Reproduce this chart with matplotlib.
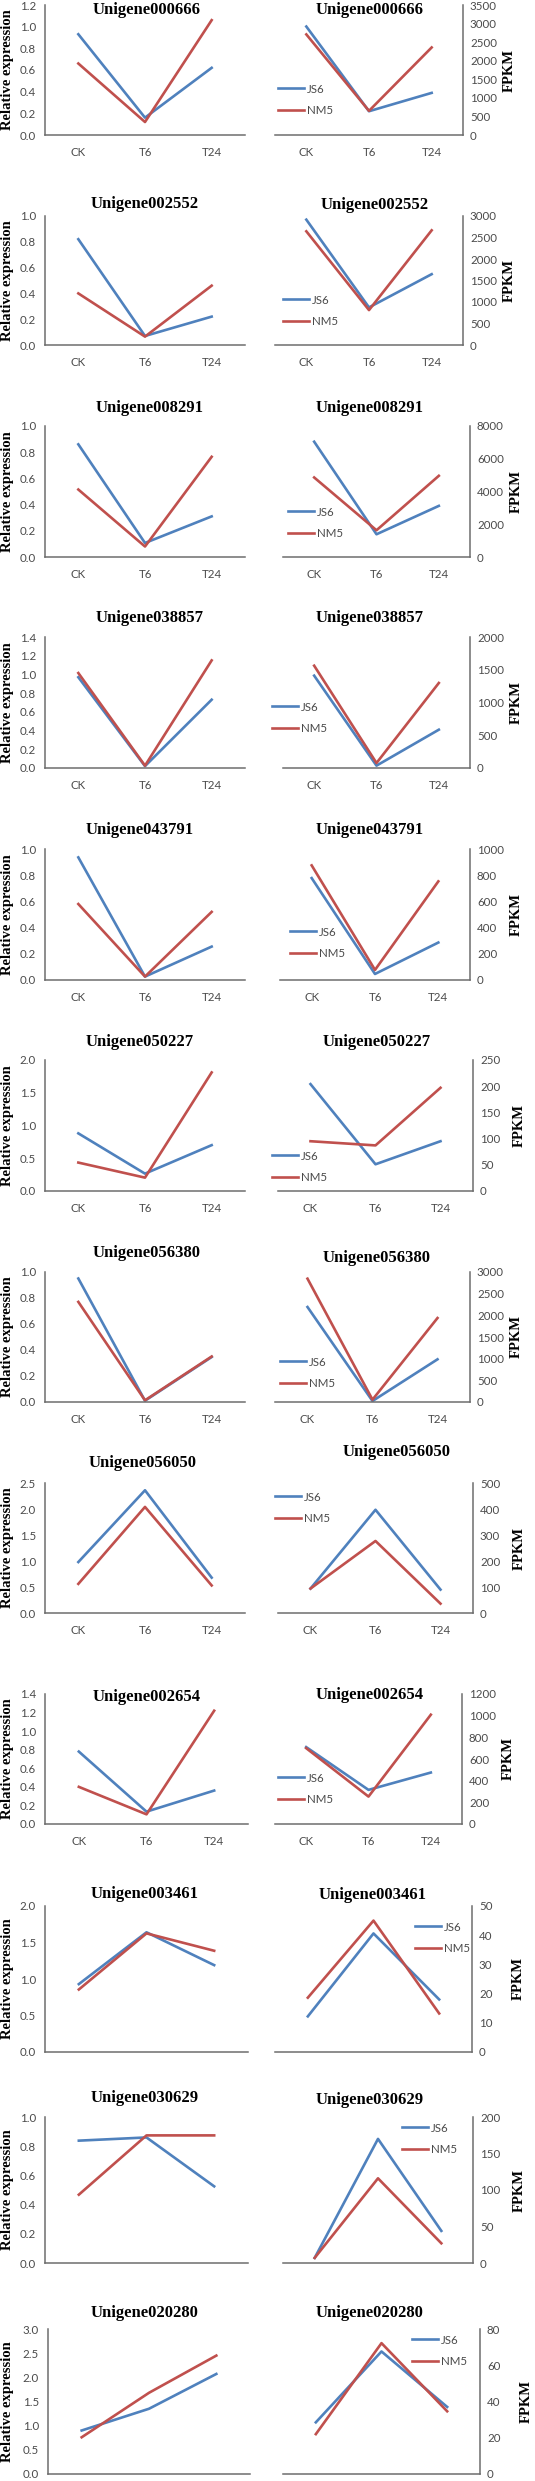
"""qRT-PCR relative expression vs RNA-seq FPKM for 12 unigenes (JS6 / NM5)
"""
import matplotlib
matplotlib.use('Agg')
import matplotlib.pyplot as plt
from matplotlib.ticker import MultipleLocator, FormatStrFormatter

# Data
genes = ['Unigene000666', 'Unigene002552', 'Unigene008291', 'Unigene038857',
         'Unigene043791', 'Unigene050227', 'Unigene056380', 'Unigene056050',
         'Unigene002654', 'Unigene003461', 'Unigene030629', 'Unigene020280']
stages = ['CK', 'T6', 'T24']
series = ['JS6', 'NM5']

rel_js6 = [[0.93, 0.16, 0.62], [0.82, 0.07, 0.22], [0.86, 0.107, 0.31],
           [0.97, 0.02, 0.73], [0.936, 0.026, 0.255], [0.88, 0.265, 0.70],
           [0.95, 0.01, 0.346], [0.98, 2.36, 0.68], [0.78, 0.133, 0.36],
           [0.93, 1.64, 1.19], [0.838, 0.86, 0.525], [0.90, 1.35, 2.07]]
rel_nm5 = [[0.66, 0.12, 1.06], [0.40, 0.065, 0.46], [0.515, 0.08, 0.765],
           [1.015, 0.025, 1.15], [0.58, 0.026, 0.52], [0.434, 0.204, 1.81],
           [0.77, 0.013, 0.35], [0.56, 2.04, 0.53], [0.40, 0.104, 1.22],
           [0.856, 1.625, 1.387], [0.468, 0.874, 0.874], [0.76, 1.68, 2.45]]
fpkm_js6 = [[2920, 640, 1134], [2915, 874, 1647], [7041, 1388, 3122],
            [1410, 36, 585], [778, 46, 286], [204, 51, 95],
            [2192, 23, 985], [94, 397, 90], [710, 315, 475],
            [12.2, 40.6, 18], [7, 170, 44], [28.5, 67.6, 37]]
fpkm_nm5 = [[2708, 650, 2357], [2644, 812, 2667], [4857, 1633, 4959],
            [1562, 76, 1298], [875, 77, 753], [95, 87, 197],
            [2846, 54, 1938], [94, 277, 36], [700, 253, 1009],
            [18.6, 45, 13.2], [7, 116, 27], [22, 72.2, 34.6]]

rel_max = [1.2, 1.0, 1.0, 1.4, 1.0, 2.0, 1.0, 2.5, 1.4, 2.0, 1.0, 3.0]
rel_step = [0.2, 0.2, 0.2, 0.2, 0.2, 0.5, 0.2, 0.5, 0.2, 0.5, 0.2, 0.5]
fpkm_max = [3500, 3000, 8000, 2000, 1000, 250, 3000, 500, 1200, 50, 200, 80]
fpkm_step = [500, 500, 2000, 500, 200, 50, 500, 100, 200, 10, 50, 20]
show_xlabels = [True] * 9 + [False] * 3

# Layout, in pixels of the 535x2481 figure
W, H = 535, 2481
# (top, bottom) of plot areas, left x-range, right x-range
rows_y = [(5, 135), (216, 345), (426, 557), (637, 768), (849, 980), (1060, 1191),
          (1272, 1402), (1483, 1613), (1694, 1824), (1906, 2052), (2117, 2263),
          (2329, 2474)]
left_x = [(45, 245)] * 8 + [(45, 248)] * 3 + [(48, 250)]
right_x = [(275, 463), (275, 463), (283, 470), (283, 470), (280, 470), (278, 473),
           (275, 470), (278, 473), (275, 462), (275, 472), (283, 473), (283, 480)]
left_title = [(147, 10), (145, 204), (150, 408), (150, 618), (140, 830), (140, 1042),
              (147, 1253), (143, 1463), (147, 1697), (145, 1894), (145, 2098), (145, 2313)]
right_title = [(370, 10), (375, 205), (370, 408), (370, 618), (370, 830), (377, 1042),
               (377, 1258), (397, 1452), (370, 1695), (373, 1895), (370, 2100), (370, 2313)]
# legend: handle start x, centre y between the two entries
legend_pos = [(278, 100), (283, 311), (288, 523), (272, 718), (290, 943), (272, 1167),
              (280, 1373), (275, 1508), (278, 1789), (415, 1938), (402, 2139), (412, 2351)]

blue = '#4F81BD'
red = '#C0504D'
axis_color = '#6d6d6d'
tick_color = '#4a4a4a'
serif = 'Liberation Serif'
sans = 'Lato'

fig = plt.figure(figsize=(W / 100, H / 100), dpi=100)


def px_axes(x0, x1, top, bottom):
    return fig.add_axes([x0 / W, 1 - bottom / H, (x1 - x0) / W, (bottom - top) / H])


def style(ax, side, show_x):
    for s in ax.spines.values():
        s.set_visible(False)
    ax.spines['bottom'].set_visible(True)
    ax.spines[side].set_visible(True)
    for s in ('bottom', side):
        ax.spines[s].set_color(axis_color)
        ax.spines[s].set_linewidth(1.1)
    ax.set_xlim(-0.5, 2.5)
    ax.set_xticks(range(len(stages)))
    ax.set_xticklabels(stages if show_x else [''] * len(stages))
    ax.tick_params(length=0, labelsize=8.3, labelcolor=tick_color)
    ax.tick_params(axis='x', pad=8.5)
    for lab in ax.get_xticklabels() + ax.get_yticklabels():
        lab.set_family(sans)
    ax.patch.set_alpha(0)


for i, gene in enumerate(genes):
    top, bottom = rows_y[i]

    # qRT-PCR
    ax = px_axes(left_x[i][0], left_x[i][1], top, bottom)
    ax.plot(range(3), rel_js6[i], color=blue, lw=1.9, label=series[0])
    ax.plot(range(3), rel_nm5[i], color=red, lw=1.9, label=series[1])
    ax.set_ylim(0, rel_max[i])
    ax.yaxis.set_major_locator(MultipleLocator(rel_step[i]))
    ax.yaxis.set_major_formatter(FormatStrFormatter('%.1f'))
    style(ax, 'left', show_xlabels[i])
    ax.tick_params(axis='y', pad=6.5)
    for lab in ax.get_yticklabels():
        lab.set_family(sans)
    fig.text(8 / W, 1 - ((top + bottom) / 2) / H, 'Relative expression',
             rotation=90, ha='center', va='center', family=serif,
             fontweight='bold', fontsize=10.5)
    fig.text(left_title[i][0] / W, 1 - left_title[i][1] / H, gene, ha='center',
             va='center', family=serif, fontweight='bold', fontsize=12)

    # RNA-seq
    ax2 = px_axes(right_x[i][0], right_x[i][1], top, bottom)
    ax2.plot(range(3), fpkm_js6[i], color=blue, lw=1.9, label=series[0])
    ax2.plot(range(3), fpkm_nm5[i], color=red, lw=1.9, label=series[1])
    ax2.set_ylim(0, fpkm_max[i])
    ax2.yaxis.set_major_locator(MultipleLocator(fpkm_step[i]))
    ax2.yaxis.set_major_formatter(FormatStrFormatter('%d'))
    ax2.yaxis.tick_right()
    style(ax2, 'right', show_xlabels[i])
    ax2.tick_params(axis='y', pad=5)
    for lab in ax2.get_yticklabels():
        lab.set_family(sans)
    fig.text((right_x[i][1] + 46) / W, 1 - ((top + bottom) / 2) / H, 'FPKM',
             rotation=90, ha='center', va='center', family=serif,
             fontweight='bold', fontsize=10.5)
    fig.text(right_title[i][0] / W, 1 - right_title[i][1] / H, gene, ha='center',
             va='center', family=serif, fontweight='bold', fontsize=12)

    lx, ly = legend_pos[i]
    leg = ax2.legend(loc='center left', bbox_to_anchor=(lx / W, 1 - ly / H),
                     bbox_transform=fig.transFigure, frameon=False, borderpad=0,
                     borderaxespad=0, handlelength=2.25, handletextpad=0.25,
                     labelspacing=0.95, prop={'family': sans, 'size': 8.3})
    for t in leg.get_texts():
        t.set_color(tick_color)

plt.savefig('out.png', dpi=100)
